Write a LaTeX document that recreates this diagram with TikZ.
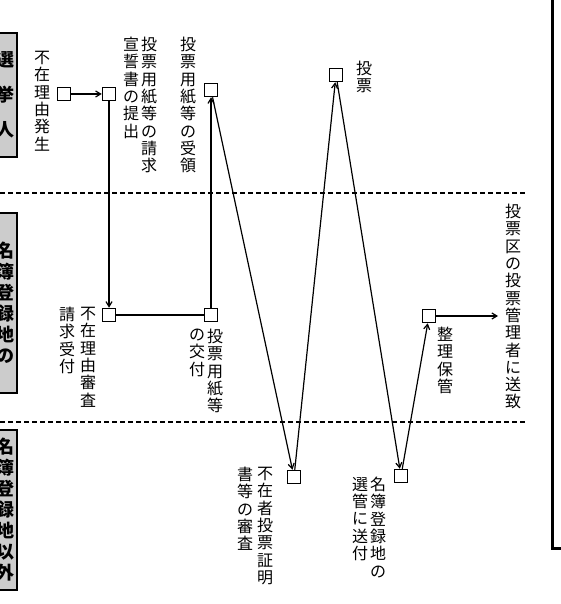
\documentclass[tikz,border=0pt]{standalone}
\usepackage{fontspec}
\setmainfont{Noto Sans CJK JP}
\usetikzlibrary{arrows.meta}

\begin{document}
\begin{tikzpicture}[x=1pt, y=-1pt]
    \tikzstyle{mark box} = [rectangle, draw=black, line width=1.5pt, minimum size=13pt, inner sep=0pt]
    \tikzstyle{tate} = [align=center, inner sep=0pt, anchor=north, font=\fontsize{16pt}{17.3pt}\selectfont]
    \tikzstyle{band} = [rectangle, draw=black, line width=1.5pt, fill=gray!40, text width=30pt, align=right, inner sep=3pt, font=\bfseries\fontsize{18pt}{21pt}\selectfont]
    \tikzstyle{zone} = [line width=1.4pt, dash pattern=on 5pt off 3pt]
    \tikzstyle{arrow} = [line width=1.2pt, -{Straight Barb[length=5pt,width=6pt]}]
    \tikzstyle{link} = [line width=1.2pt]

    \useasboundingbox (0,0) rectangle (560,604);

    % Bands
    \node (voter) [band, minimum height=124pt] at (-1,95) {選\\[14pt]挙\\[14pt]人};
    \node (regist) [band, minimum height=180pt] at (-1,303) {名\\簿\\登\\録\\地\\の};
    \node (other) [band, minimum height=160pt] at (-1,510) {名\\簿\\登\\録\\地\\以\\外};
    \draw [zone] (0,193) -- (525,193);
    \draw [zone] (0,422) -- (527,422);
    \draw [line width=3pt] (552,0) -- (552,548) -- (565,548);

    % Nodes
    \node (cause) [mark box] at (64,94) {};
    \node (claim) [mark box] at (109,94) {};
    \node (recv) [mark box] at (211,90) {};
    \node (vote) [mark box] at (336,75) {};
    \node (check) [mark box] at (109,315) {};
    \node (issue) [mark box] at (211,315) {};
    \node (proof) [mark box] at (294,477) {};
    \node (sendto) [mark box] at (401,476) {};
    \node (keep) [mark box] at (429,316) {};
    \coordinate (out) at (498,316);

    % Labels
    \node (causet) [tate] at (42,51) {不\\在\\理\\由\\発\\生};
    \node (claimt) [tate] at (149,37) {投\\票\\用\\紙\\等\\の\\請\\求};
    \node (claimt2) [tate] at (131,37) {宣\\誓\\書\\の\\提\\出};
    \node (recvt) [tate] at (188,37) {投\\票\\用\\紙\\等\\の\\受\\領};
    \node (votet) [tate] at (364,61) {投\\票};
    \node (checkt) [tate] at (88,307) {不\\在\\理\\由\\審\\査};
    \node (checkt2) [tate] at (67,307) {請\\求\\受\\付};
    \node (issuet) [tate] at (215,329) {投\\票\\用\\紙\\等};
    \node (issuet2) [tate] at (197,329) {の\\交\\付};
    \node (prooft) [tate] at (265,467) {不\\在\\者\\投\\票\\証\\明};
    \node (prooft2) [tate] at (245,467) {書\\等\\の\\審\\査};
    \node (sendtot) [tate] at (378,477) {名\\簿\\登\\録\\地\\の};
    \node (sendtot2) [tate] at (360,477) {選\\管\\に\\送\\付};
    \node (keept) [tate] at (445,327) {整\\理\\保\\管};
    \node (outt) [tate] at (513,204) {投\\票\\区\\の\\投\\票\\管\\理\\者\\に\\送\\致};

    % Arrows
    \draw [arrow] (cause) -- (claim);
    \draw [arrow] (claim) -- (check);
    \draw [link] (check) -- (issue);
    \draw [arrow] (issue) -- (recv);
    \draw [arrow] (recv) -- (proof);
    \draw [arrow] (proof) -- (vote);
    \draw [arrow] (vote) -- (sendto);
    \draw [arrow] (sendto) -- (keep);
    \draw [arrow] (keep) -- (out);
\end{tikzpicture}
\end{document}
